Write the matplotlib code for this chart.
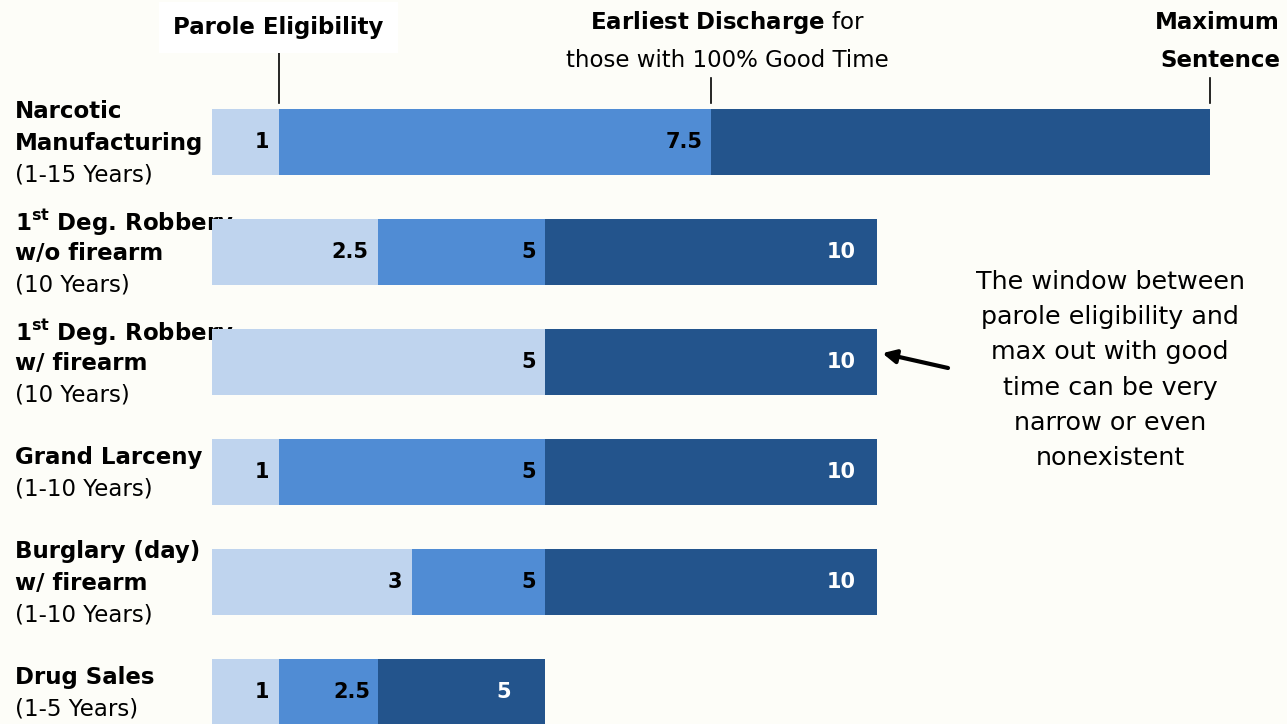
import matplotlib
matplotlib.use("Agg")
import matplotlib.pyplot as plt
from matplotlib.transforms import offset_copy, blended_transform_factory

# offence labels: bold lines, then regular range line
names = [["Narcotic", "Manufacturing"],
         [r"$\mathbf{1^{st}}$ Deg. Robbery", "w/o firearm"],
         [r"$\mathbf{1^{st}}$ Deg. Robbery", "w/ firearm"],
         ["Grand Larceny"],
         ["Burglary (day)", "w/ firearm"],
         ["Drug Sales"]]
ranges = ["(1-15 Years)", "(10 Years)", "(10 Years)", "(1-10 Years)",
          "(1-10 Years)", "(1-5 Years)"]

parole = [1, 2.5, 5, 1, 3, 1]
discharge = [7.5, 5, 5, 5, 5, 2.5]
maximum = [15, 10, 10, 10, 10, 5]
show_max = [False, True, True, True, True, True]

c_light = "#bfd4ee"
c_mid = "#508cd4"
c_dark = "#23548c"
bg = "#fdfdf8"

plt.rcParams['font.family'] = ['DejaVu Sans']

fig = plt.figure(figsize=(12.87, 7.24), dpi=100, facecolor=bg)
ax = fig.add_axes([212 / 1287, 0, 1 - 212 / 1287, 1])
ax.set_facecolor("none")
ax.set_xlim(0, 1075 / 66.5)
ax.set_ylim(5.29, -1.29)
ax.axis("off")

rows = list(range(len(names)))
h = 0.6
ax.barh(rows, parole, height=h, color=c_light, zorder=2)
ax.barh(rows, [d - p for d, p in zip(discharge, parole)], left=parole,
        height=h, color=c_mid, zorder=2)
ax.barh(rows, [m - d for m, d in zip(maximum, discharge)], left=discharge,
        height=h, color=c_dark, zorder=2)

# value labels, right aligned inside each segment
for i in rows:
    if parole[i] != discharge[i]:
        ax.annotate(f"{parole[i]:g}", (parole[i], i), xytext=(-7, 0),
                    textcoords="offset points", ha="right", va="center",
                    fontsize=15, fontweight="bold", color="black", zorder=3)
    ax.annotate(f"{discharge[i]:g}", (discharge[i], i), xytext=(-6, 0),
                textcoords="offset points", ha="right", va="center",
                fontsize=15, fontweight="bold", color="black", zorder=3)
    if show_max[i]:
        pad = -24 if maximum[i] < 10 else -15
        ax.annotate(f"{maximum[i]:g}", (maximum[i], i), xytext=(pad, 0),
                    textcoords="offset points", ha="right", va="center",
                    fontsize=15, fontweight="bold", color="white", zorder=3)

# left labels (drawn under the bars)
tr = blended_transform_factory(fig.transFigure, ax.transData)
pitch = 22.7
for i in rows:
    lines = [(t, "bold") for t in names[i]] + [(ranges[i], "normal")]
    n = len(lines)
    for k, (t, w) in enumerate(lines):
        off = offset_copy(tr, fig=fig, x=0, y=-(k - (n - 1) / 2) * pitch - 1,
                          units="points")
        ax.text(15 / 1287, i, t, transform=off, ha="left", va="center",
                fontsize=16.5, fontweight=w, zorder=1, clip_on=False)

# top markers
top = rows[0]
ytop = top - h / 2
ax.text(parole[top], -1.04, "Parole Eligibility", ha="center", va="center",
        fontsize=16.5, fontweight="bold",
        bbox=dict(facecolor="white", edgecolor="none", pad=10))
ax.plot([parole[top]] * 2, [-0.84, ytop - 0.05], color="black", lw=1.2)

ax.text(discharge[top] + 0.25, -1.09, r"$\mathbf{Earliest\ Discharge}$ for",
        ha="center", va="center", fontsize=16.5)
ax.text(discharge[top] + 0.25, -0.74, "those with 100% Good Time",
        ha="center", va="center", fontsize=16.5)
ax.plot([discharge[top]] * 2, [-0.58, ytop - 0.05], color="black", lw=1.2)

ax.text(1280 / 1287, -1.09, "Maximum", transform=tr, ha="right",
        va="center", fontsize=16.5, fontweight="bold")
ax.text(1280 / 1287, -0.74, "Sentence", transform=tr, ha="right",
        va="center", fontsize=16.5, fontweight="bold")
ax.plot([maximum[top]] * 2, [-0.58, ytop - 0.05], color="black", lw=1.2)

# callout
fig.text(1110 / 1287, 1 - 370 / 724,
         "The window between\nparole eligibility and\nmax out with good\n"
         "time can be very\nnarrow or even\nnonexistent",
         ha="center", va="center", fontsize=18.3, linespacing=1.59)
ax.annotate("", xy=(maximum[2] + 0.08, 2 - 0.08),
            xytext=(948 / 1287, 1 - 368 / 724),
            textcoords="figure fraction",
            arrowprops=dict(arrowstyle="-|>", color="black", lw=3,
                            mutation_scale=20, shrinkA=0, shrinkB=0))

fig.savefig("out.png", dpi=100, facecolor=bg)
